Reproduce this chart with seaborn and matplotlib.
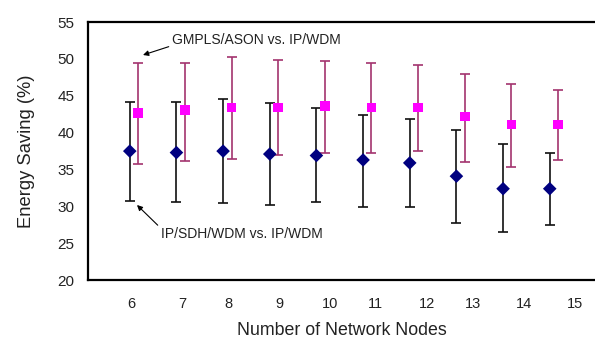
import matplotlib
matplotlib.use("Agg")
import matplotlib.pyplot as plt
import seaborn as sns
import numpy as np
import pandas as pd

nodes = [6, 7, 8, 9, 10, 11, 12, 13, 14, 15]
tick_labels = ["6", "7", "8", "9", "10", "11", "12", "13", "14", "15"]
tick_positions = [6.03, 7.12, 8.11, 9.2, 10.29, 11.27, 12.37, 13.36, 14.45, 15.54]

# IP/SDH/WDM vs. IP/WDM
sdh_mean = [37.5, 37.3, 37.5, 37.1, 36.9, 36.3, 35.9, 34.1, 32.4, 32.4]
sdh_low = [30.8, 30.6, 30.4, 30.2, 30.6, 29.9, 29.9, 27.7, 26.5, 27.5]
sdh_high = [44.2, 44.2, 44.5, 44.0, 43.4, 42.4, 41.9, 40.4, 38.4, 37.3]

# GMPLS/ASON vs. IP/WDM
ason_mean = [42.7, 43.1, 43.4, 43.4, 43.6, 43.4, 43.4, 42.2, 41.1, 41.1]
ason_low = [35.7, 36.2, 36.4, 37.0, 37.3, 37.3, 37.5, 36.0, 35.3, 36.3]
ason_high = [49.5, 49.5, 50.3, 49.8, 49.7, 49.5, 49.2, 47.9, 46.6, 45.8]

offset = 0.18

sns.set_style("white")
plt.rcParams['font.family'] = ['Liberation Sans', 'DejaVu Sans']

fig = plt.figure(figsize=(5.95, 3.45), dpi=100)
ax = fig.add_axes([0.148, 0.188, 0.852, 0.748])

x_sdh = np.array(nodes, dtype=float)
x_ason = x_sdh + offset

df = pd.DataFrame({
    "x": np.concatenate([x_sdh, x_ason]),
    "y": sdh_mean + ason_mean,
    "series": ["IP/SDH/WDM vs. IP/WDM"] * len(nodes) + ["GMPLS/ASON vs. IP/WDM"] * len(nodes),
})

ax.errorbar(x_sdh, sdh_mean,
            yerr=[np.array(sdh_mean) - np.array(sdh_low), np.array(sdh_high) - np.array(sdh_mean)],
            fmt='none', ecolor='#111111', elinewidth=1.2, capsize=3.6, capthick=1.2, zorder=2)
ax.errorbar(x_ason, ason_mean,
            yerr=[np.array(ason_mean) - np.array(ason_low), np.array(ason_high) - np.array(ason_mean)],
            fmt='none', ecolor='#A3346E', elinewidth=1.2, capsize=3.6, capthick=1.2, zorder=2)

sns.scatterplot(data=df, x="x", y="y", hue="series", style="series",
                palette={"IP/SDH/WDM vs. IP/WDM": "#000080", "GMPLS/ASON vs. IP/WDM": "#FF00FF"},
                markers={"IP/SDH/WDM vs. IP/WDM": "D", "GMPLS/ASON vs. IP/WDM": "s"},
                s=48, linewidth=0, legend=False, ax=ax, zorder=3)

ax.set_xlim(5.106, 15.97)
ax.set_ylim(20, 55)
ax.set_yticks(np.arange(20, 56, 5))
ax.set_yticklabels([str(v) for v in range(20, 56, 5)], fontsize=11)
ax.set_xticks(tick_positions)
ax.set_xticklabels(tick_labels, fontsize=10.5)
ax.tick_params(axis='both', direction='in', length=4, width=1, colors='black', labelcolor='#222222')
ax.tick_params(axis='y', pad=10)
ax.tick_params(axis='x', pad=12)

ax.set_xlabel("Number of Network Nodes", fontsize=12.8, labelpad=8, color='#222222')
ax.set_ylabel("Energy Saving (%)", fontsize=13.2, labelpad=16, color='#222222')

for s in ['top', 'left', 'bottom']:
    ax.spines[s].set_visible(True)
    ax.spines[s].set_color('black')
    ax.spines[s].set_linewidth(1.6)
ax.spines['right'].set_visible(False)

ax.annotate("GMPLS/ASON vs. IP/WDM", xy=(143, 345 - 55), xycoords='figure pixels',
            xytext=(172, 345 - 40), textcoords='figure pixels',
            fontsize=10, va='center', ha='left', color='#222222',
            arrowprops=dict(arrowstyle='-|>', color='black', lw=0.8, mutation_scale=8,
                            shrinkA=0, shrinkB=0, relpos=(0, 0.1)))
ax.annotate("IP/SDH/WDM vs. IP/WDM", xy=(137, 345 - 205), xycoords='figure pixels',
            xytext=(161, 345 - 234), textcoords='figure pixels',
            fontsize=10, va='center', ha='left', color='#222222',
            arrowprops=dict(arrowstyle='-|>', color='black', lw=0.8, mutation_scale=8,
                            shrinkA=0, shrinkB=0, relpos=(0, 0.9)))

fig.savefig("out.png", dpi=100)
